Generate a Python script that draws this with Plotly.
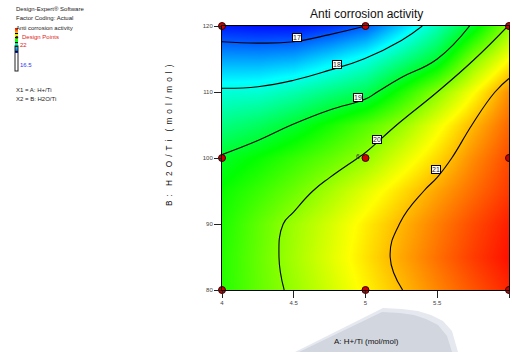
import plotly.graph_objects as go

# ---------------- data ----------------
A_vals = [4, 4.25, 4.5, 4.75, 5, 5.25, 5.5, 5.75, 6]          # A: H+/Ti
B_vals = [80, 85, 90, 95, 100, 105, 110, 115, 120]            # B: H2O/Ti
# Anti corrosion activity, rows follow B_vals, columns follow A_vals
Z_rows = [
    [19.45, 19.78, 20.08, 20.38, 20.69, 20.99, 21.28, 21.55, 21.80],
    [19.45, 19.80, 20.14, 20.46, 20.78, 21.10, 21.40, 21.68, 21.92],
    [19.40, 19.76, 20.10, 20.40, 20.72, 21.02, 21.32, 21.60, 21.85],
    [19.30, 19.55, 19.83, 20.15, 20.48, 20.80, 21.12, 21.42, 21.70],
    [19.05, 19.28, 19.53, 19.78, 20.06, 20.45, 20.83, 21.25, 21.60],
    [18.56, 18.75, 19.02, 19.36, 19.70, 20.06, 20.54, 21.02, 21.45],
    [18.08, 18.12, 18.31, 18.57, 18.81, 19.39, 20.00, 20.61, 21.25],
    [17.38, 17.37, 17.44, 17.71, 18.02, 18.50, 19.00, 19.97, 20.64],
    [16.65, 16.60, 16.60, 16.75, 17.00, 17.61, 18.28, 19.08, 20.03],
]
design_A = [4, 5, 6, 4, 5, 6, 4, 5, 6]
design_B = [80, 80, 80, 100, 100, 100, 120, 120, 120]
contour_levels = [17, 18, 19, 20, 21]
label_A = [4.52, 4.80, 4.95, 5.08, 5.49]
label_B = [118.2, 114.2, 109.2, 102.8, 98.2]
z_min, z_max = 16.5, 22
x_ticks = [4, 4.5, 5, 5.5, 6]
y_ticks = [80, 90, 100, 110, 120]

# ---------------- layout helpers ----------------
W, H = 510, 352
L, R, T, Bm = 222, 1, 26, 62
PW, PH = W - L - R, H - T - Bm
FONT = "Liberation Sans, Arial, sans-serif"


def fx(p):
    return (p - L) / PW


def fy(p):
    return (H - Bm - p) / PH


colorscale = [[0, "#0000ff"], [0.25, "#00ffff"], [0.5, "#00ff00"],
              [0.75, "#ffff00"], [1, "#ff0000"]]

fig = go.Figure()
fig.add_trace(go.Contour(
    x=A_vals, y=B_vals, z=Z_rows,
    colorscale=colorscale, zmin=z_min, zmax=z_max,
    contours=dict(start=contour_levels[0], end=contour_levels[-1], size=1,
                  coloring="heatmap", showlabels=False),
    line=dict(color="black", width=1.1, smoothing=1.3),
    colorbar=dict(xref="container", yref="container",
                  x=15 / W, xanchor="left", y=1 - 54.5 / H, yanchor="middle",
                  lenmode="pixels", len=25, thickness=3,
                  outlinewidth=1, outlinecolor="#222",
                  showticklabels=False, ticks="", xpad=0, ypad=0),
    hoverinfo="skip",
))
fig.add_trace(go.Scatter(
    x=design_A, y=design_B, mode="markers",
    marker=dict(size=7, color="#cc0000", line=dict(color="#3a0000", width=1)),
    cliponaxis=False, showlegend=False, hoverinfo="skip",
))

ann = []
for lv, xa, yb in zip(contour_levels, label_A, label_B):
    ann.append(dict(x=xa, y=yb, xref="x", yref="y", text=str(lv), showarrow=False,
                    xanchor="center", yanchor="middle",
                    font=dict(size=7, color="#222", family=FONT),
                    bgcolor="white", bordercolor="black", borderwidth=1, borderpad=0))
ann.append(dict(x=4.975, y=100.3, xref="x", yref="y", text="6", showarrow=False,
                xanchor="right", yanchor="middle",
                font=dict(size=7, color="#333", family=FONT)))


def text_px(txt, xp, yp, size, color="#222", xanchor="center", angle=0):
    return dict(x=fx(xp), y=fy(yp), xref="paper", yref="paper", text=txt,
                showarrow=False, xanchor=xanchor, yanchor="middle", textangle=angle,
                font=dict(size=size, color=color, family=FONT))


ann.append(text_px("Anti corrosion activity", 366, 14, 12, "#111"))
ann.append(text_px("A: H+/Ti (mol/mol)", 366, 341, 8, "#111"))
sp = "\u2002"
ytitle = sp.join(list("B:")) + sp * 2 + sp.join(list("H2O/Ti")) + sp * 2 + sp.join(list("(mol/mol)"))
ann.append(text_px(ytitle, 169, 135, 8.2, "#111", angle=-90))

left_lines = [("Design-Expert® Software", 9),
              ("Factor Coding: Actual", 18.3),
              ("Anti corrosion activity", 28),
              ("X1 = A: H+/Ti", 90),
              ("X2 = B: H2O/Ti", 99)]
for txt, yp in left_lines:
    ann.append(text_px(txt, 13.5, yp, 6, "#222", xanchor="left"))
ann.append(text_px("\u25cf", 12.5, 37, 6, "#400000", xanchor="left"))
ann.append(text_px("Design Points", 19.5, 37, 6, "#dd2222", xanchor="left"))
ann.append(text_px(f"{z_max:g}", 17.5, 45, 6, "#dd2222", xanchor="left"))
ann.append(text_px(f"{z_min:g}", 17.5, 65, 6, "#3333ee", xanchor="left"))


def path(pts):
    return "M " + " L ".join(f"{fx(a):.4f},{fy(b):.4f}" for a, b in pts) + " Z"


outer = [(295, 352), (383, 308), (402, 309), (418, 311), (431, 315), (443, 321), (452, 331), (458, 352)]
inner = [(299, 352), (382, 312), (400, 313), (414, 315), (426, 319), (438, 325), (447, 336), (452, 352)]
shapes = [
    dict(type="path", path=path(outer), xref="paper", yref="paper",
         fillcolor="#e6e8ef", line=dict(width=0), layer="below"),
    dict(type="path", path=path(inner), xref="paper", yref="paper",
         fillcolor="#d2d6df", line=dict(width=0), layer="below"),
]

axis_common = dict(showline=True, linecolor="black", linewidth=1, mirror=True,
                   ticks="outside", ticklen=7, tickwidth=1, tickcolor="#222",
                   tickfont=dict(size=6, color="#444", family=FONT),
                   showgrid=False, zeroline=False)
fig.update_layout(
    width=W, height=H,
    margin=dict(l=L, r=R, t=T, b=Bm, pad=0),
    paper_bgcolor="white", plot_bgcolor="white",
    xaxis=dict(range=[4, 6], tickvals=x_ticks, ticktext=[f"{v:g}" for v in x_ticks], **axis_common),
    yaxis=dict(range=[80, 120], tickvals=y_ticks, ticktext=[f"{v:g}" for v in y_ticks], **axis_common),
    annotations=ann, shapes=shapes, showlegend=False,
    font=dict(family=FONT),
)
fig.write_html(
    "out.html",
    config={"displayModeBar": False},
    post_script="document.body.style.margin='0';document.body.style.overflow='hidden';",
)
